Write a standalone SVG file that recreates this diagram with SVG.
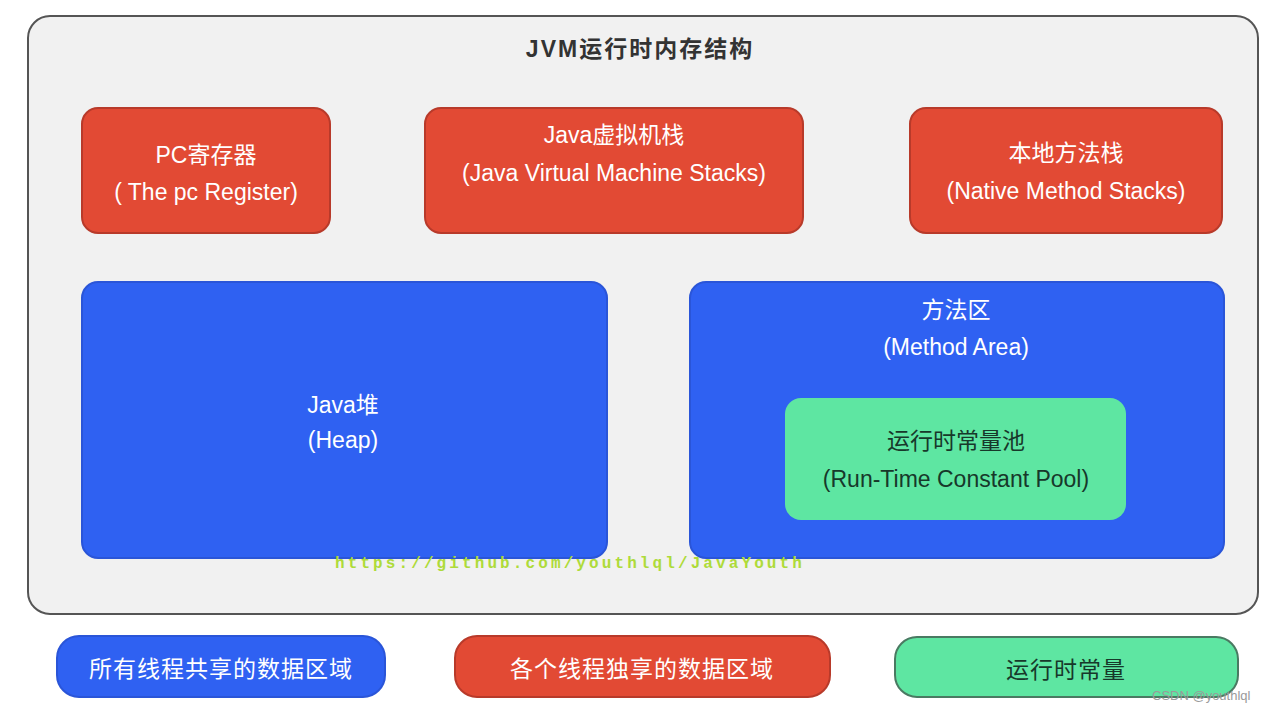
<svg xmlns="http://www.w3.org/2000/svg" width="1266" height="714" viewBox="0 0 1266 714">
<style>
.red{fill:#e24a34;stroke:#b83a2a;stroke-width:2}
.blue{fill:#2f61f2;stroke:#2a55d8;stroke-width:2}
.green{fill:#5ee6a2;stroke:#4a7a62;stroke-width:2}
.t{font-family:"Liberation Sans","Noto Sans CJK SC",sans-serif;text-anchor:middle;font-size:23px}
.w{fill:#ffffff}
.d{fill:#17382a}
</style>
<rect x="0" y="0" width="1266" height="714" fill="#ffffff"/>
<g id="panel">
<rect x="28" y="16" width="1230" height="598" rx="22" fill="#f1f1f1" stroke="#555555" stroke-width="2"/>
<text class="t" x="640" y="57" font-size="31" font-weight="bold" letter-spacing="2" fill="#333333">JVM运行时内存结构</text>
</g>
<g id="pc">
<rect class="red" x="82" y="108" width="248" height="125" rx="16"/>
<text class="t w" x="206" y="163">PC寄存器</text>
<text class="t w" x="206" y="200">( The pc Register)</text>
</g>
<g id="jvmstack">
<rect class="red" x="425" y="108" width="378" height="125" rx="16"/>
<text class="t w" x="614" y="143">Java虚拟机栈</text>
<text class="t w" x="614" y="181">(Java Virtual Machine Stacks)</text>
</g>
<g id="native">
<rect class="red" x="910" y="108" width="312" height="125" rx="16"/>
<text class="t w" x="1066" y="161">本地方法栈</text>
<text class="t w" x="1066" y="199">(Native Method Stacks)</text>
</g>
<g id="heap">
<rect class="blue" x="82" y="282" width="525" height="276" rx="16"/>
<text class="t w" x="343" y="413">Java堆</text>
<text class="t w" x="343" y="448">(Heap)</text>
</g>
<g id="method">
<rect class="blue" x="690" y="282" width="534" height="276" rx="16"/>
<text class="t w" x="956" y="318">方法区</text>
<text class="t w" x="956" y="355">(Method Area)</text>
</g>
<g id="pool">
<rect x="785" y="398" width="341" height="122" rx="16" fill="#5ee6a2"/>
<text class="t d" x="956" y="449">运行时常量池</text>
<text class="t d" x="956" y="487">(Run-Time Constant Pool)</text>
</g>
<text x="335" y="568" font-family="Liberation Mono, monospace" font-size="16" font-weight="bold" letter-spacing="3.1" fill="#aedb3a">https://github.com/youthlql/JavaYouth</text>
<g id="legend-shared">
<rect class="blue" x="57" y="636" width="328" height="61" rx="22"/>
<text class="t w" x="221" y="677" font-size="25" letter-spacing="1">所有线程共享的数据区域</text>
</g>
<g id="legend-private">
<rect class="red" x="455" y="636" width="375" height="61" rx="22"/>
<text class="t w" x="642" y="677" font-size="25" letter-spacing="1">各个线程独享的数据区域</text>
</g>
<g id="legend-const">
<rect class="green" x="895" y="637" width="343" height="60" rx="22"/>
<text class="t d" x="1066" y="678" font-size="27" letter-spacing="1">运行时常量</text>
</g>
<text x="1152" y="700" font-family="Liberation Sans, sans-serif" font-size="13" fill="#9a9a9a">CSDN @youthlql</text>
</svg>
